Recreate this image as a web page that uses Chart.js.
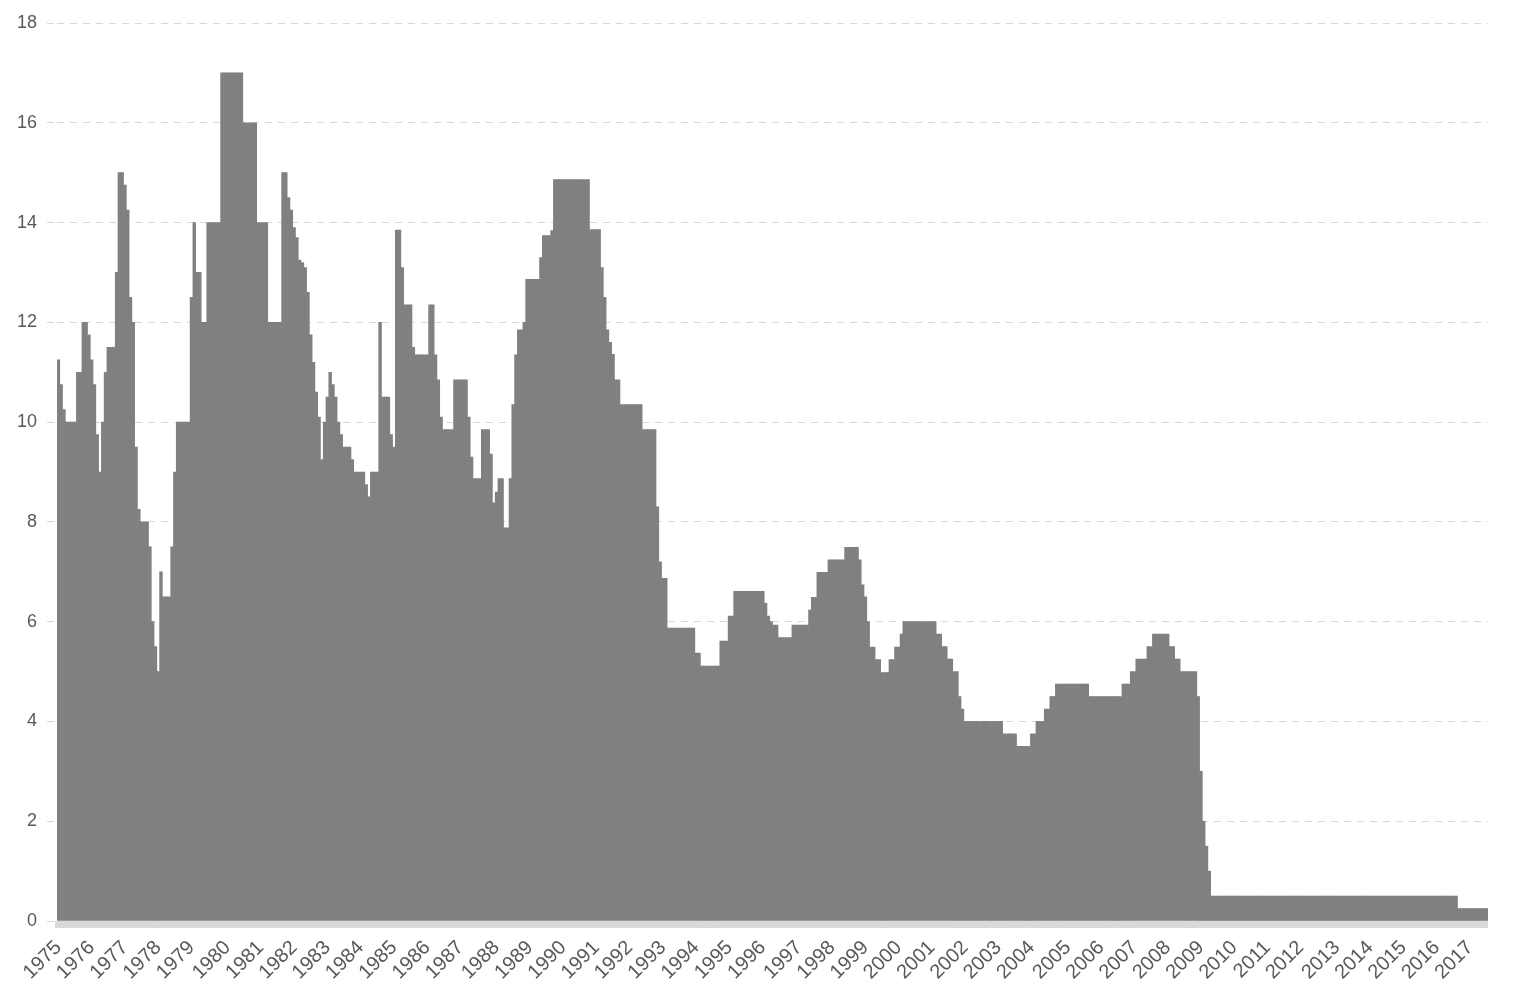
<!DOCTYPE html>
<html>
<head>
<meta charset="utf-8">
<title>Rate 1975-2017</title>
<script src="https://cdn.jsdelivr.net/npm/chart.js@4.4.1/dist/chart.umd.min.js"></script>
<style>
  html, body { margin: 0; padding: 0; background: #fff; }
  #wrap { width: 1526px; height: 997px; }
</style>
</head>
<body>
<div id="wrap"><canvas id="chartRate"></canvas></div>
<script>
/* ─── Datos ───────────────────────────────────── */
const years = [
  1975, 1976, 1977, 1978, 1979, 1980, 1981, 1982, 1983, 1984, 1985,
  1986, 1987, 1988, 1989, 1990, 1991, 1992, 1993, 1994, 1995, 1996,
  1997, 1998, 1999, 2000, 2001, 2002, 2003, 2004, 2005, 2006, 2007,
  2008, 2009, 2010, 2011, 2012, 2013, 2014, 2015, 2016, 2017,
];

// posición (nº de barra) de cada etiqueta de año
const yearTickAt = [
  0, 12, 24, 36, 48, 61, 73, 85, 97, 109, 121,
  133, 145, 158, 170, 182, 194, 206, 218, 230, 242, 254,
  267, 279, 291, 303, 315, 327, 339, 351, 364, 376, 388,
  400, 412, 424, 436, 448, 461, 473, 485, 497, 509,
];

// un valor por paso (~1 mes), 12 por fila
const rate = [
  11.25, 10.75, 10.25, 10, 10, 10, 10, 11, 11, 12, 12, 11.75,
  11.25, 10.75, 9.75, 9, 10, 11, 11.5, 11.5, 11.5, 13, 15, 15,
  14.75, 14.25, 12.5, 12, 9.5, 8.25, 8, 8, 8, 7.5, 6, 5.5,
  5, 7, 6.5, 6.5, 6.5, 7.5, 9, 10, 10, 10, 10, 10,
  12.5, 14, 13, 13, 12, 12, 14, 14, 14, 14, 14, 17,
  17, 17, 17, 17, 17, 17, 17, 16, 16, 16, 16, 16,
  14, 14, 14, 14, 12, 12, 12, 12, 12, 15, 15, 14.5,
  14.25, 13.9, 13.7, 13.25, 13.2, 13.1, 12.6, 11.75, 11.2, 10.6, 10.1, 9.25,
  10, 10.5, 11, 10.75, 10.5, 10, 9.75, 9.5, 9.5, 9.5, 9.25, 9,
  9, 9, 9, 8.75, 8.5, 9, 9, 9, 12, 10.5, 10.5, 10.5,
  9.75, 9.5, 13.85, 13.85, 13.1, 12.35, 12.35, 12.35, 11.5, 11.35, 11.35, 11.35,
  11.35, 11.35, 12.35, 12.35, 11.35, 10.85, 10.1, 9.85, 9.85, 9.85, 9.85, 10.85,
  10.85, 10.85, 10.85, 10.85, 10.1, 9.3, 8.87, 8.87, 8.87, 9.85, 9.85, 9.85,
  9.36, 8.38, 8.6, 8.87, 8.87, 7.88, 7.88, 8.87, 10.35, 11.35, 11.85, 11.85,
  12, 12.86, 12.86, 12.86, 12.86, 12.86, 13.3, 13.74, 13.74, 13.74, 13.84, 14.86,
  14.86, 14.86, 14.86, 14.86, 14.86, 14.86, 14.86, 14.86, 14.86, 14.86, 14.86, 14.86,
  13.86, 13.86, 13.86, 13.86, 13.1, 12.5, 11.85, 11.6, 11.36, 10.85, 10.85, 10.35,
  10.35, 10.35, 10.35, 10.35, 10.35, 10.35, 10.35, 9.85, 9.85, 9.85, 9.85, 9.85,
  8.3, 7.2, 6.87, 6.87, 5.87, 5.87, 5.87, 5.87, 5.87, 5.87, 5.87, 5.87,
  5.87, 5.87, 5.37, 5.37, 5.11, 5.11, 5.11, 5.11, 5.11, 5.11, 5.11, 5.61,
  5.61, 5.61, 6.11, 6.11, 6.61, 6.61, 6.61, 6.61, 6.61, 6.61, 6.61, 6.61,
  6.61, 6.61, 6.61, 6.37, 6.11, 6.0, 5.93, 5.93, 5.68, 5.68, 5.68, 5.68,
  5.68, 5.93, 5.93, 5.93, 5.93, 5.93, 5.93, 6.23, 6.49, 6.49, 6.99, 6.99,
  6.99, 6.99, 7.24, 7.24, 7.24, 7.24, 7.24, 7.24, 7.49, 7.49, 7.49, 7.49,
  7.49, 7.24, 6.74, 6.5, 6.0, 5.49, 5.49, 5.24, 5.24, 4.98, 4.98, 4.98,
  5.24, 5.24, 5.49, 5.49, 5.75, 6, 6, 6, 6, 6, 6, 6,
  6, 6, 6, 6, 6, 5.75, 5.75, 5.5, 5.5, 5.25, 5.25, 5,
  5, 4.5, 4.25, 4, 4, 4, 4, 4, 4, 4, 4, 4,
  4, 4, 4, 4, 4, 3.75, 3.75, 3.75, 3.75, 3.75, 3.5, 3.5,
  3.5, 3.5, 3.5, 3.75, 3.75, 4, 4, 4, 4.25, 4.25, 4.5, 4.5,
  4.75, 4.75, 4.75, 4.75, 4.75, 4.75, 4.75, 4.75, 4.75, 4.75, 4.75, 4.75,
  4.5, 4.5, 4.5, 4.5, 4.5, 4.5, 4.5, 4.5, 4.5, 4.5, 4.5, 4.5,
  4.75, 4.75, 4.75, 5, 5, 5.25, 5.25, 5.25, 5.25, 5.5, 5.5, 5.75,
  5.75, 5.75, 5.75, 5.75, 5.75, 5.5, 5.5, 5.25, 5.25, 5, 5, 5,
  5, 5, 5, 4.5, 3, 2, 1.5, 1, 0.5, 0.5, 0.5, 0.5,
  0.5, 0.5, 0.5, 0.5, 0.5, 0.5, 0.5, 0.5, 0.5, 0.5, 0.5, 0.5,
  0.5, 0.5, 0.5, 0.5, 0.5, 0.5, 0.5, 0.5, 0.5, 0.5, 0.5, 0.5,
  0.5, 0.5, 0.5, 0.5, 0.5, 0.5, 0.5, 0.5, 0.5, 0.5, 0.5, 0.5,
  0.5, 0.5, 0.5, 0.5, 0.5, 0.5, 0.5, 0.5, 0.5, 0.5, 0.5, 0.5,
  0.5, 0.5, 0.5, 0.5, 0.5, 0.5, 0.5, 0.5, 0.5, 0.5, 0.5, 0.5,
  0.5, 0.5, 0.5, 0.5, 0.5, 0.5, 0.5, 0.5, 0.5, 0.5, 0.5, 0.5,
  0.5, 0.5, 0.5, 0.5, 0.5, 0.5, 0.5, 0.5, 0.5, 0.5, 0.5, 0.5,
  0.5, 0.25, 0.25, 0.25, 0.25, 0.25, 0.25, 0.25, 0.25, 0.25, 0.25, 0.25,
];

const yMin = 0;
const yMax = 18;
const yStep = 2;

/* ─── Categorías: una por barra ───────────────── */
const labels = rate.map((_, i) => String(i));
const tickText = {};
yearTickAt.forEach((pos, k) => { tickText[pos] = String(years[k]); });

const TEXT = '#595959';
const GRID = '#d9d9d9';
const BAR = '#808080';
const FAMILY = "'Liberation Sans', Arial, sans-serif";

/* banda gris bajo el eje X */
const axisBand = {
  id: 'axisBand',
  afterDatasetsDraw(chart) {
    const { ctx, chartArea } = chart;
    ctx.save();
    ctx.fillStyle = GRID;
    ctx.fillRect(chartArea.left - 2, chartArea.bottom, chartArea.right - chartArea.left + 2, 7);
    ctx.restore();
  },
};

new Chart(document.getElementById('chartRate'), {
  type: 'bar',
  data: {
    labels,
    datasets: [{
      data: rate,
      backgroundColor: BAR,
      borderWidth: 0,
      barPercentage: 1,
      categoryPercentage: 1,
    }],
  },
  options: {
    responsive: true,
    maintainAspectRatio: false,
    animation: false,
    layout: { padding: { top: 23, right: 38, left: 0, bottom: 0 } },
    plugins: {
      legend: { display: false },
      tooltip: { enabled: false },
    },
    scales: {
      x: {
        grid: { display: false, drawTicks: false },
        border: { display: false },
        ticks: {
          autoSkip: false,
          minRotation: 45,
          maxRotation: 45,
          padding: 15,
          color: TEXT,
          font: { family: FAMILY, size: 20 },
          callback: (v, i) => tickText[i] || '',
        },
        afterFit: s => { s.height = 76; },
      },
      y: {
        min: yMin,
        max: yMax,
        grid: {
          color: GRID,
          tickLength: 10,
          tickColor: GRID,
          tickBorderDash: [7, 6],
        },
        border: { display: false, dash: [7, 6] },
        ticks: {
          stepSize: yStep,
          padding: 10,
          color: TEXT,
          font: { family: FAMILY, size: 18 },
        },
        afterFit: s => { s.width = 57; },
      },
    },
  },
  plugins: [axisBand],
});
</script>
</body>
</html>
